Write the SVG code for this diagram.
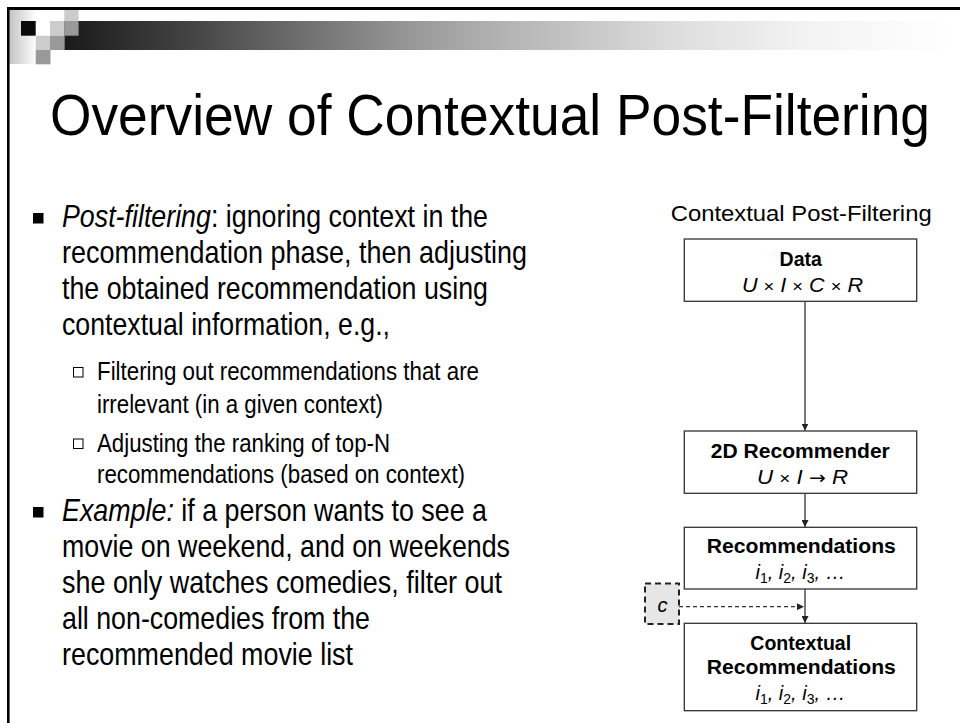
<svg xmlns="http://www.w3.org/2000/svg" width="960" height="723" viewBox="0 0 960 723">
  <defs>
    <linearGradient id="barGrad" x1="0" y1="0" x2="1" y2="0">
      <stop offset="0" stop-color="#1a1a1a"/>
      <stop offset="0.13" stop-color="#404040"/>
      <stop offset="0.265" stop-color="#6e6e6e"/>
      <stop offset="0.377" stop-color="#949494"/>
      <stop offset="0.467" stop-color="#adadad"/>
      <stop offset="0.69" stop-color="#dedede"/>
      <stop offset="0.83" stop-color="#f2f2f2"/>
      <stop offset="1" stop-color="#ffffff"/>
    </linearGradient>
    <linearGradient id="edgeGrad" x1="0" y1="0" x2="1" y2="0">
      <stop offset="0" stop-color="#c4c4c4"/>
      <stop offset="1" stop-color="#ffffff"/>
    </linearGradient>
    <marker id="arrow" viewBox="0 0 10 10" refX="10" refY="5" markerWidth="7" markerHeight="7" markerUnits="userSpaceOnUse" orient="auto">
      <path d="M0,0 L10,5 L0,10 z" fill="#222"/>
    </marker>
  </defs>
  <style>
    .body { font-family: "Liberation Sans", Arial, sans-serif; font-size: 32px; fill: #000; }
    .sub { font-family: "Liberation Sans", Arial, sans-serif; font-size: 26px; fill: #000; }
    .title { font-family: "Liberation Sans", Arial, sans-serif; font-size: 58px; fill: #000; }
    .cap { font-family: "Liberation Sans", Arial, sans-serif; font-size: 22px; fill: #000; }
    .lbl { font-family: "Liberation Sans", Arial, sans-serif; font-size: 19.5px; font-weight: bold; fill: #000; text-anchor: middle; }
    .math { font-family: "Liberation Sans", Arial, sans-serif; font-size: 20px; font-style: italic; fill: #000; text-anchor: middle; }
    .box { fill: #fff; stroke: #333; stroke-width: 1.3; }
    .edge { fill: none; stroke: #333; stroke-width: 1.3; }
    .dash { fill: none; stroke: #333; stroke-width: 1.2; stroke-dasharray: 4 3; }
    .ctx { fill: #e6e6e6; stroke: #222; stroke-width: 2; stroke-dasharray: 6 4; }
  </style>

  <rect width="960" height="723" fill="#fff"/>

  <!-- slide header decoration -->
  <g id="header">
    <rect x="9.5" y="10" width="27" height="54" fill="url(#edgeGrad)"/>
    <rect x="64.3" y="21" width="889" height="29" fill="url(#barGrad)"/>
    <rect x="64.3" y="10" width="14.3" height="11" fill="#cccccc"/>
    <rect x="21" y="21" width="14.7" height="14.7" fill="#0a0a0a"/>
    <rect x="50" y="21" width="14.3" height="14.7" fill="#cccccc"/>
    <rect x="64.3" y="21" width="14.3" height="14.7" fill="#999999"/>
    <rect x="35.7" y="35.7" width="14.3" height="14.3" fill="#cccccc"/>
    <rect x="50" y="35.7" width="14.3" height="14.3" fill="#999999"/>
    <rect x="35.7" y="50" width="14.8" height="14.3" fill="#999999"/>
    <rect x="7" y="7" width="953" height="3" fill="#000"/>
    <rect x="7" y="7" width="2.6" height="716" fill="#000"/>
  </g>

  <text class="title" x="50" y="135" textLength="880" lengthAdjust="spacingAndGlyphs">Overview of Contextual Post-Filtering</text>

  <!-- bullet list -->
  <g id="bullets">
    <rect x="33" y="213" width="10.5" height="10.5" fill="#000"/>
    <text class="body" x="62" y="226.7" textLength="426" lengthAdjust="spacingAndGlyphs"><tspan font-style="italic">Post-filtering</tspan>: ignoring context in the</text>
    <text class="body" x="62" y="262.7" textLength="465" lengthAdjust="spacingAndGlyphs">recommendation phase, then adjusting</text>
    <text class="body" x="62" y="298.7" textLength="426" lengthAdjust="spacingAndGlyphs">the obtained recommendation using</text>
    <text class="body" x="62" y="334.7" textLength="328" lengthAdjust="spacingAndGlyphs">contextual information, e.g.,</text>

    <rect x="73.5" y="367.5" width="9.5" height="9.5" fill="none" stroke="#000" stroke-width="1"/>
    <text class="sub" x="97" y="380" textLength="382" lengthAdjust="spacingAndGlyphs">Filtering out recommendations that are</text>
    <text class="sub" x="97" y="413" textLength="286" lengthAdjust="spacingAndGlyphs">irrelevant (in a given context)</text>
    <rect x="73.5" y="439" width="9.5" height="9.5" fill="none" stroke="#000" stroke-width="1"/>
    <text class="sub" x="97" y="451.7" textLength="293" lengthAdjust="spacingAndGlyphs">Adjusting the ranking of top-N</text>
    <text class="sub" x="97" y="482.7" textLength="368" lengthAdjust="spacingAndGlyphs">recommendations (based on context)</text>

    <rect x="33" y="507" width="10.5" height="10.5" fill="#000"/>
    <text class="body" x="62" y="520.7" textLength="425" lengthAdjust="spacingAndGlyphs"><tspan font-style="italic">Example:</tspan> if a person wants to see a</text>
    <text class="body" x="62" y="556.7" textLength="448" lengthAdjust="spacingAndGlyphs">movie on weekend, and on weekends</text>
    <text class="body" x="62" y="592.7" textLength="440" lengthAdjust="spacingAndGlyphs">she only watches comedies, filter out</text>
    <text class="body" x="62" y="628.6" textLength="308" lengthAdjust="spacingAndGlyphs">all non-comedies from the</text>
    <text class="body" x="62" y="664.6" textLength="291" lengthAdjust="spacingAndGlyphs">recommended movie list</text>
  </g>

  <text class="cap" x="670.7" y="220.7" textLength="261" lengthAdjust="spacingAndGlyphs">Contextual Post-Filtering</text>

  <!-- connectors -->
  <g id="connectors">
    <line class="edge" x1="805" y1="301.3" x2="805" y2="430.5" marker-end="url(#arrow)"/>
    <line class="edge" x1="805" y1="493.3" x2="805" y2="527" marker-end="url(#arrow)"/>
    <line class="edge" x1="805" y1="589" x2="805" y2="623" marker-end="url(#arrow)"/>
    <line class="dash" x1="679" y1="606.7" x2="804" y2="606.7" marker-end="url(#arrow)"/>
  </g>

  <g id="data">
    <rect class="box" x="684.3" y="239" width="232.4" height="62.3"/>
    <text class="lbl" x="800.7" y="266">Data</text>
    <text class="math" x="802.5" y="291.7" textLength="121" lengthAdjust="spacingAndGlyphs">U <tspan font-style="normal" font-size="17">×</tspan> I <tspan font-style="normal" font-size="17">×</tspan> C <tspan font-style="normal" font-size="17">×</tspan> R</text>
  </g>

  <g id="recommender2d">
    <rect class="box" x="684.3" y="431" width="232.4" height="62.3"/>
    <text class="lbl" x="800.3" y="457.7" textLength="179" lengthAdjust="spacingAndGlyphs">2D Recommender</text>
    <text class="math" x="802.5" y="484" textLength="91" lengthAdjust="spacingAndGlyphs">U <tspan font-style="normal" font-size="17">×</tspan> I <tspan font-style="normal" font-family="DejaVu Sans, sans-serif" font-size="18">→</tspan> R</text>
  </g>

  <g id="recommendations">
    <rect class="box" x="684.3" y="527.3" width="232.4" height="61.7"/>
    <text class="lbl" x="801.3" y="553.3" textLength="189" lengthAdjust="spacingAndGlyphs">Recommendations</text>
    <text class="math" x="800.5" y="579">i<tspan font-style="normal" font-size="14" dy="4">1</tspan><tspan dy="-4">, i</tspan><tspan font-style="normal" font-size="14" dy="4">2</tspan><tspan dy="-4">, i</tspan><tspan font-style="normal" font-size="14" dy="4">3</tspan><tspan dy="-4">, …</tspan></text>
  </g>

  <g id="context">
    <rect class="ctx" x="645" y="583.5" width="34" height="40.5"/>
    <text class="math" x="662.5" y="612.3" font-size="22">c</text>
  </g>

  <g id="contextualRecommendations">
    <rect class="box" x="684.3" y="623.3" width="232.4" height="87.4"/>
    <text class="lbl" x="800.7" y="650">Contextual</text>
    <text class="lbl" x="801.3" y="674" textLength="189" lengthAdjust="spacingAndGlyphs">Recommendations</text>
    <text class="math" x="800.5" y="700">i<tspan font-style="normal" font-size="14" dy="4">1</tspan><tspan dy="-4">, i</tspan><tspan font-style="normal" font-size="14" dy="4">2</tspan><tspan dy="-4">, i</tspan><tspan font-style="normal" font-size="14" dy="4">3</tspan><tspan dy="-4">, …</tspan></text>
  </g>
</svg>
